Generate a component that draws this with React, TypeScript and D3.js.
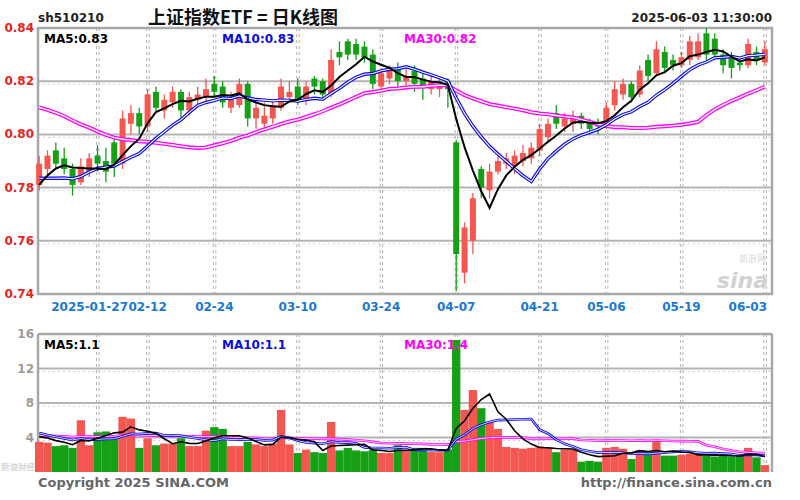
import React from 'react';
import * as d3 from 'd3';

// trading days shown, 2025-01-16 .. 2025-06-03
const dates = [
  '01-16','01-17','01-20','01-21','01-22','01-23','01-24','01-27',
  '02-05','02-06','02-07','02-10','02-11','02-12','02-13','02-14','02-17','02-18','02-19','02-20','02-21','02-24','02-25','02-26','02-27','02-28',
  '03-03','03-04','03-05','03-06','03-07','03-10','03-11','03-12','03-13','03-14','03-17','03-18','03-19','03-20','03-21','03-24','03-25','03-26','03-27','03-28','03-31',
  '04-01','04-02','04-03','04-07','04-08','04-09','04-10','04-11','04-14','04-15','04-16','04-17','04-18','04-21','04-22','04-23','04-24','04-25','04-28','04-29','04-30',
  '05-06','05-07','05-08','05-09','05-12','05-13','05-14','05-15','05-16','05-19','05-20','05-21','05-22','05-23','05-26','05-27','05-28','05-29','05-30',
  '06-03',
];

const open = [
  0.781,0.787,0.794,0.791,0.787,0.782,0.786,0.792,
  0.790,0.797,0.789,0.804,0.808,0.803,0.816,0.809,0.812,0.816,0.809,0.813,0.814,0.819,0.818,0.810,0.811,0.819,
  0.806,0.804,0.806,0.810,0.814,0.818,0.813,0.821,0.820,0.815,0.831,0.835,0.834,0.833,0.830,0.818,0.821,0.825,0.820,0.824,0.821,
  0.817,0.817,0.820,0.797,0.748,0.760,0.787,0.779,0.786,0.789,0.788,0.790,0.791,0.794,0.799,0.808,0.803,0.804,0.807,0.805,0.804,
  0.803,0.811,0.815,0.819,0.815,0.828,0.823,0.831,0.828,0.826,0.828,0.829,0.838,0.836,0.830,0.829,0.827,0.826,0.831,
  0.827,
];
const high = [
  0.792,0.794,0.797,0.795,0.789,0.791,0.793,0.796,
  0.795,0.799,0.809,0.811,0.810,0.817,0.818,0.815,0.818,0.817,0.816,0.818,0.821,0.822,0.820,0.816,0.821,0.820,
  0.813,0.812,0.813,0.821,0.820,0.821,0.820,0.822,0.821,0.832,0.835,0.836,0.836,0.835,0.832,0.825,0.826,0.827,0.825,0.826,0.823,
  0.822,0.821,0.821,0.798,0.767,0.778,0.788,0.789,0.792,0.793,0.794,0.796,0.797,0.804,0.806,0.811,0.808,0.809,0.808,0.806,0.806,
  0.812,0.820,0.821,0.820,0.826,0.830,0.835,0.833,0.830,0.831,0.837,0.838,0.840,0.838,0.832,0.831,0.829,0.836,0.833,
  0.835,
];
const low = [
  0.779,0.784,0.787,0.785,0.777,0.781,0.784,0.786,
  0.782,0.784,0.787,0.800,0.800,0.801,0.808,0.806,0.810,0.806,0.807,0.811,0.812,0.814,0.810,0.808,0.810,0.803,
  0.802,0.802,0.804,0.809,0.812,0.811,0.811,0.815,0.813,0.814,0.826,0.828,0.828,0.827,0.817,0.816,0.819,0.818,0.818,0.816,0.813,
  0.815,0.814,0.810,0.741,0.744,0.755,0.776,0.776,0.785,0.787,0.785,0.788,0.789,0.792,0.797,0.802,0.801,0.801,0.802,0.800,0.800,
  0.802,0.809,0.813,0.812,0.814,0.820,0.822,0.823,0.824,0.825,0.826,0.828,0.828,0.828,0.823,0.821,0.824,0.825,0.826,
  0.826,
];
const close = [
  0.789,0.792,0.789,0.787,0.781,0.788,0.791,0.789,
  0.786,0.789,0.806,0.808,0.803,0.815,0.810,0.813,0.816,0.809,0.814,0.815,0.817,0.816,0.812,0.813,0.819,0.806,
  0.810,0.807,0.811,0.818,0.816,0.813,0.818,0.818,0.815,0.828,0.829,0.830,0.830,0.829,0.819,0.823,0.824,0.820,0.822,0.819,0.818,
  0.820,0.819,0.817,0.755,0.765,0.776,0.780,0.786,0.790,0.791,0.792,0.793,0.795,0.802,0.804,0.804,0.806,0.806,0.804,0.802,0.803,
  0.810,0.817,0.819,0.814,0.824,0.822,0.832,0.825,0.826,0.829,0.835,0.835,0.830,0.830,0.826,0.825,0.826,0.834,0.828,
  0.832,
];
const volume = [
  3.5,3.4,3.0,3.1,2.8,6.0,3.1,4.6,
  4.7,4.3,6.4,6.2,2.8,3.9,3.1,3.3,3.3,3.9,3.0,3.0,4.8,5.2,5.0,3.0,3.0,3.5,
  3.2,3.0,3.3,7.2,3.2,2.2,2.6,2.3,2.2,5.8,2.5,2.8,2.5,2.4,2.6,2.2,2.2,3.1,2.5,2.8,2.8,
  2.3,2.3,2.6,15.3,7.2,9.5,7.4,5.8,5.0,2.9,2.8,2.7,2.8,3.0,2.8,2.3,2.6,2.6,1.2,1.3,1.2,
  2.8,2.9,2.7,1.5,2.5,2.3,3.5,1.9,1.9,2.0,2.1,2.0,1.9,1.8,1.9,1.8,1.9,2.8,1.7,
  0.8,
];

// the 29 sessions before the window, needed for the moving averages
const priorClose = [
  0.818,0.822,0.826,0.829,0.831,0.828,0.832,0.825,0.821,0.823,
  0.818,0.816,0.820,0.822,0.826,0.828,0.824,0.826,0.821,0.812,
  0.792,0.789,0.786,0.784,0.779,0.774,0.776,0.781,0.785,
];
const priorVolume = [
  4.0,3.8,4.5,5.2,4.1,3.6,3.9,4.4,3.7,4.2,
  3.5,3.9,4.8,4.0,3.6,4.3,3.8,4.1,3.9,4.4,
  5.6,5.1,4.9,4.6,4.4,4.2,4.5,4.1,4.2,
];

const tickDates = ['01-27','02-12','02-24','03-10','03-24','04-07','04-21','05-06','05-19','06-03'];
const tickLabels = ['2025-01-27','02-12','02-24','03-10','03-24','04-07','04-21','05-06','05-19','06-03'];
const priceTicks = [0.84, 0.82, 0.80, 0.78, 0.76, 0.74];
const volumeTicks = [16, 12, 8, 4];

const RED = '#f4574f';
const GREEN = '#15a015';
const GRID = '#b4b4b4';

function movingAvg(prior: number[], data: number[], n: number) {
  const all = prior.concat(data);
  return data.map((_, i) => {
    const end = prior.length + i;
    return d3.mean(all.slice(end - n + 1, end + 1)) as number;
  });
}

const App: React.FC = () => {
  const left = 38, right = 772;
  const x = d3.scaleBand<number>().domain(d3.range(dates.length)).range([35, 769]);
  const bw = x.bandwidth();
  const cx = (i: number) => (x(i) as number) + bw / 2;

  const y = d3.scaleLinear().domain([0.74, 0.84]).range([294, 28]);
  const yv = d3.scaleLinear().domain([0, 16]).range([472, 334]);

  const ma5 = movingAvg(priorClose, close, 5);
  const ma10 = movingAvg(priorClose, close, 10);
  const ma30 = movingAvg(priorClose, close, 30);
  const vma5 = movingAvg(priorVolume, volume, 5);
  const vma10 = movingAvg(priorVolume, volume, 10);
  const vma30 = movingAvg(priorVolume, volume, 30);

  const priceLine = d3.line<number>().x((_, i) => cx(i)).y(d => y(d));
  const volLine = d3.line<number>().x((_, i) => cx(i)).y(d => yv(d));

  const bold = { fontFamily: 'DejaVu Sans', fontWeight: 700 } as const;

  // first date label sits left of its tick, last one is pulled inside the frame
  const dateLabel = (d: string, k: number) => {
    const xx = cx(dates.indexOf(d));
    if (k === 0) return { x: 128, anchor: 'end' };
    if (k === tickDates.length - 1) return { x: 767, anchor: 'end' };
    return { x: xx, anchor: 'middle' };
  };

  return (
    <svg width={800} height={500} style={{ position: 'absolute', left: 0, top: 0, background: '#fff' }}>
      {/* header */}
      <text x={38} y={22} fontSize={12} {...bold} fill="#222">sh510210</text>
      <text x={148} y={24} fontSize={18} fontFamily="Noto Sans CJK SC" fontWeight={700} fill="#111">上证指数ETF = 日K线图</text>
      <text x={772} y={22} fontSize={12} {...bold} fill="#222" textAnchor="end">2025-06-03 11:30:00</text>

      {/* price panel grid */}
      {priceTicks.slice(1, -1).map(t => (
        <g key={t}>
          <line x1={left} x2={right} y1={y(t)} y2={y(t)} stroke={GRID} strokeWidth={2} />
          <line x1={left} x2={right} y1={y(t) + 3} y2={y(t) + 3} stroke="#d0d0d0" strokeDasharray="2,3" />
        </g>
      ))}
      {tickDates.map(d => {
        const xx = cx(dates.indexOf(d));
        return (
          <g key={d}>
            <line x1={xx - 1} x2={xx - 1} y1={28} y2={294} stroke={GRID} strokeDasharray="3,3" />
            <line x1={xx + 1.5} x2={xx + 1.5} y1={28} y2={294} stroke={GRID} strokeDasharray="3,3" />
            <line x1={xx - 1} x2={xx - 1} y1={334} y2={472} stroke={GRID} strokeDasharray="3,3" />
            <line x1={xx + 1.5} x2={xx + 1.5} y1={334} y2={472} stroke={GRID} strokeDasharray="3,3" />
          </g>
        );
      })}
      <rect x={left} y={28} width={right - left} height={266} fill="none" stroke="#a8a8a8" strokeWidth={2.5} />

      {/* price axis labels */}
      {priceTicks.map(t => (
        <text key={t} x={34} y={y(t) + 4} fontSize={12} {...bold} fill="#e8231d" textAnchor="end">{t.toFixed(2)}</text>
      ))}
      {tickDates.map((d, k) => {
        const p = dateLabel(d, k);
        return (
          <text key={d} x={p.x} y={311} fontSize={12} {...bold} fill="#1a78d2" textAnchor={p.anchor}>{tickLabels[k]}</text>
        );
      })}

      {/* watermark */}
      <text x={768} y={288} fontSize={22} fontStyle="italic" {...bold} fill="#d2d2d2" textAnchor="end">sina</text>
      <text x={766} y={262} fontSize={9} fontFamily="Noto Sans CJK SC" fill="#d8d8d8" textAnchor="end">新浪网</text>

      {/* candles */}
      {close.map((c, i) => {
        const up = c >= open[i];
        const col = up ? RED : GREEN;
        const top = y(Math.max(open[i], c));
        const h = Math.max(1.5, Math.abs(y(open[i]) - y(c)));
        return (
          <g key={i}>
            <line x1={cx(i)} x2={cx(i)} y1={y(high[i])} y2={y(low[i])} stroke={col} strokeWidth={1.3} />
            <rect x={cx(i) - 3} y={top} width={6} height={h} fill={col} />
          </g>
        );
      })}

      {/* price moving averages */}
      <path d={priceLine(ma30) || ''} fill="none" stroke="#ff00ff" strokeWidth={4} />
      <path d={priceLine(ma30) || ''} fill="none" stroke="#fff" strokeWidth={1.4} />
      <path d={priceLine(ma10) || ''} fill="none" stroke="#0a0ae6" strokeWidth={3.4} />
      <path d={priceLine(ma10) || ''} fill="none" stroke="#fff" strokeWidth={1.1} />
      <path d={priceLine(ma5) || ''} fill="none" stroke="#000" strokeWidth={2} />

      <text x={44} y={43} fontSize={12} {...bold} fill="#000">MA5:0.83</text>
      <text x={222} y={43} fontSize={12} {...bold} fill="#0a0ae6">MA10:0.83</text>
      <text x={404} y={43} fontSize={12} {...bold} fill="#ff00ff">MA30:0.82</text>

      {/* volume panel */}
      {volumeTicks.slice(1).map(t => (
        <g key={t}>
          <line x1={left} x2={right} y1={yv(t)} y2={yv(t)} stroke={GRID} strokeWidth={2} />
          <line x1={left} x2={right} y1={yv(t) + 3} y2={yv(t) + 3} stroke="#d0d0d0" strokeDasharray="2,3" />
        </g>
      ))}
      <line x1={left} x2={right} y1={334} y2={334} stroke="#a8a8a8" strokeWidth={2.5} />
      <line x1={left} x2={left} y1={334} y2={472} stroke="#a8a8a8" strokeWidth={2.5} />
      <line x1={right} x2={right} y1={334} y2={472} stroke="#a8a8a8" strokeWidth={2.5} />
      {volumeTicks.map(t => (
        <text key={t} x={34} y={yv(t) + 4} fontSize={12} {...bold} fill="#9a9a9a" textAnchor="end">{t}</text>
      ))}
      <text x={1} y={470} fontSize={8.5} fontFamily="Noto Sans CJK SC" fontWeight={700} fill="#d6d6d6">新浪财经</text>

      {volume.map((v, i) => (
        <rect key={i} x={x(i)} y={yv(v)} width={bw} height={yv(0) - yv(v)} fill={close[i] >= open[i] ? RED : GREEN} />
      ))}
      <path d={volLine(vma30) || ''} fill="none" stroke="#ff00ff" strokeWidth={2.6} />
      <path d={volLine(vma30) || ''} fill="none" stroke="#fff" strokeWidth={0.8} />
      <path d={volLine(vma10) || ''} fill="none" stroke="#0a0ae6" strokeWidth={2.6} />
      <path d={volLine(vma10) || ''} fill="none" stroke="#fff" strokeWidth={0.8} />
      <path d={volLine(vma5) || ''} fill="none" stroke="#000" strokeWidth={1.6} />

      <text x={44} y={349} fontSize={12} {...bold} fill="#000">MA5:1.1</text>
      <text x={222} y={349} fontSize={12} {...bold} fill="#0a0ae6">MA10:1.1</text>
      <text x={404} y={349} fontSize={12} {...bold} fill="#ff00ff">MA30:1.4</text>

      {/* footer */}
      <text x={38} y={487} fontSize={13} {...bold} fill="#666">Copyright 2025 SINA.COM</text>
      <text x={772} y={487} fontSize={13} {...bold} fill="#666" textAnchor="end">http://finance.sina.com.cn</text>
    </svg>
  );
};

export default App;
